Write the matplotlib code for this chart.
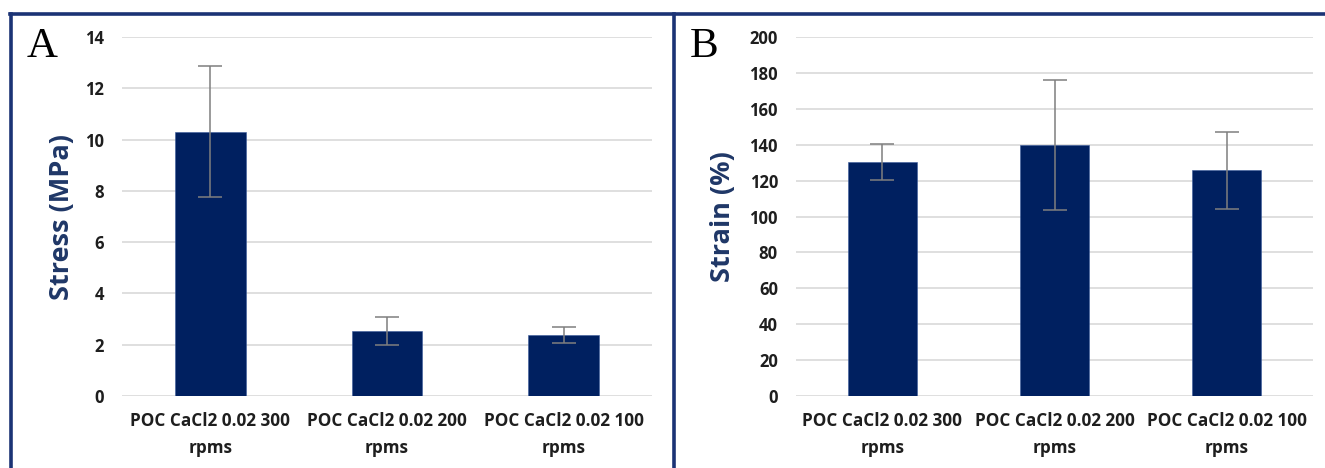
import matplotlib
matplotlib.use("Agg")
import matplotlib.pyplot as plt
from matplotlib.lines import Line2D
import numpy as np

plt.rcParams['font.family'] = ['Open Sans', 'DejaVu Sans']

# data
categories = ["POC CaCl2 0.02 300\nrpms", "POC CaCl2 0.02 200\nrpms", "POC CaCl2 0.02 100\nrpms"]
stress = [10.3, 2.53, 2.37]
stress_err = [2.55, 0.55, 0.31]
strain = [130.3, 140.0, 125.7]
strain_err = [10.1, 36.3, 21.5]

bar_color = '#002060'
frame_color = '#1b3375'
label_color = '#1f3767'
text_color = '#1e1e1e'

W, H = 1325, 468
fig = plt.figure(figsize=(W / 100, H / 100), dpi=100)


def make_panel(left_px, width_px, values, errs, ylim, step, ylabel, label_x):
    ax = fig.add_axes([left_px / W, (H - 396) / H, width_px / W, 359 / H])
    x = np.arange(len(categories))
    ax.bar(x, values, width=0.4, color=bar_color, edgecolor='#3a5a9a', linewidth=0.4, zorder=3)
    ax.errorbar(x, values, yerr=errs, fmt='none', ecolor='#7f7f7f',
                elinewidth=1.1, capsize=8.5, capthick=1.1, zorder=4)
    ax.set_xlim(-0.5, len(categories) - 0.5)
    ax.set_ylim(*ylim)
    ax.set_yticks(np.arange(ylim[0], ylim[1] + step / 2, step))
    ax.yaxis.grid(True, color='#d9d9d9', linewidth=1.2, zorder=0)
    ax.set_axisbelow(True)
    for s in ax.spines.values():
        s.set_visible(False)
    ax.tick_params(axis='both', length=0, labelcolor=text_color)
    ax.tick_params(axis='y', pad=13, labelsize=12)
    ax.tick_params(axis='x', pad=11.5, labelsize=12.3)
    ax.set_xticks(x)
    ax.set_xticklabels(categories, fontweight='bold', linespacing=1.65)
    for t in ax.get_yticklabels():
        t.set_fontweight('bold')
    ax.set_ylabel(ylabel, fontsize=19.5, fontweight='bold', color=label_color)
    ax.yaxis.set_label_coords(label_x, 0.5)
    return ax


make_panel(122, 530, stress, stress_err, (0, 14), 2, "Stress (MPa)", -0.089)
make_panel(796, 517, strain, strain_err, (0, 200), 20, "Strain (%)", -0.116)

# panel letters
fig.text(27 / W, 1 - 47 / H, "A", family='Liberation Serif', fontsize=31, va='center', ha='left', color='black')
fig.text(690 / W, 1 - 47 / H, "B", family='Liberation Serif', fontsize=31, va='center', ha='left', color='black')

# navy frame lines
lw = 2.6
fig.add_artist(Line2D([10 / W, 1], [1 - 14 / H, 1 - 14 / H], color=frame_color, linewidth=lw))
fig.add_artist(Line2D([11 / W, 11 / W], [0, 1 - 14 / H], color=frame_color, linewidth=lw))
fig.add_artist(Line2D([674 / W, 674 / W], [0, 1 - 14 / H], color=frame_color, linewidth=lw))

fig.savefig("out.png", dpi=100, facecolor='white')
